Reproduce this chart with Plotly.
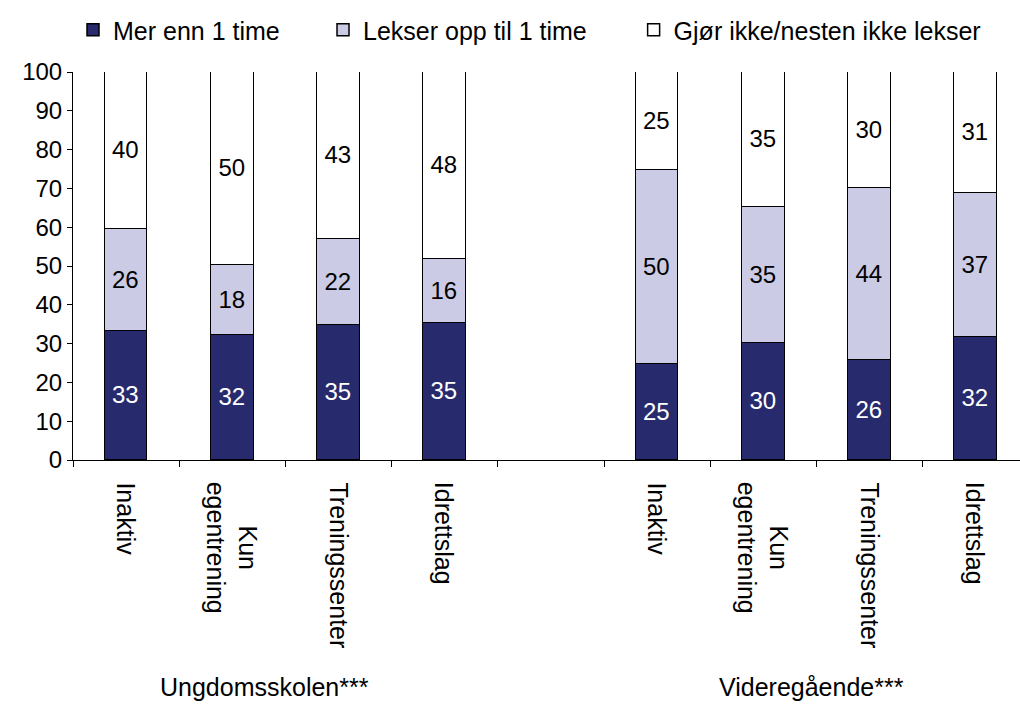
import plotly.graph_objects as go

# Activity groups (x positions leave an empty slot between the two school levels)
categories = ["Inaktiv", "Kun<br>egentrening", "Treningssenter", "Idrettslag",
              "Inaktiv", "Kun<br>egentrening", "Treningssenter", "Idrettslag"]
x_pos = [0, 1, 2, 3, 5, 6, 7, 8]
groups = ["Ungdomsskolen***", "Videregående***"]
group_x = [1.3, 6.45]

# Share of pupils (%) by homework time
mer_enn_1_time = [33.3, 32.3, 34.8, 35.3, 24.8, 30.2, 25.9, 31.6]
opp_til_1_time = [26.3, 18.0, 22.2, 16.4, 50.0, 35.1, 44.3, 37.3]
ikke_lekser = [40.4, 49.7, 43.0, 48.3, 25.2, 34.7, 29.8, 31.1]

series = [
    ("Mer enn 1 time", mer_enn_1_time, "#272A6D", "white", "legend"),
    ("Lekser opp til 1 time", opp_til_1_time, "#CBCBE5", "black", "legend2"),
    ("Gjør ikke/nesten ikke lekser", ikke_lekser, "#FFFFFF", "black", "legend3"),
]

FONT = "Liberation Sans, Arial, sans-serif"

fig = go.Figure()
for name, vals, color, tcolor, leg in series:
    fig.add_trace(go.Bar(
        x=x_pos, y=vals, name=name, width=0.4,
        marker=dict(color=color, line=dict(color="black", width=1.5)),
        text=vals, texttemplate="%{y:.0f}", textposition="inside",
        insidetextanchor="middle", textangle=0, constraintext="none",
        textfont=dict(color=tcolor, size=24, family=FONT),
        legend=leg,
    ))

annotations = []
for xp, lab in zip(x_pos, categories):
    annotations.append(dict(
        x=xp, y=0, xref="x", yref="paper", yshift=-20,
        text=lab, textangle=90, showarrow=False,
        xanchor="center", yanchor="top",
        font=dict(size=25, family=FONT, color="black"),
    ))
for gx, g in zip(group_x, groups):
    annotations.append(dict(
        x=gx, y=-0.585, xref="x", yref="paper", text=g, showarrow=False,
        xanchor="center", yanchor="middle",
        font=dict(size=25, family=FONT, color="black"),
    ))

leg_common = dict(orientation="h", yanchor="middle", y=1.108, xanchor="left",
                  font=dict(size=25, family=FONT, color="black"),
                  bgcolor="rgba(0,0,0,0)", borderwidth=0)

fig.update_layout(
    width=1020, height=706,
    margin=dict(l=73, r=0, t=72, b=246),
    paper_bgcolor="white", plot_bgcolor="white",
    barmode="stack", bargap=0,
    showlegend=True,
    legend=dict(x=0.0, **leg_common),
    legend2=dict(x=0.264, **leg_common),
    legend3=dict(x=0.592, **leg_common),
    font=dict(family=FONT, size=24, color="black"),
    xaxis=dict(range=[-0.5, 8.417], showline=True, linecolor="black", linewidth=1,
               ticks="outside", ticklen=6, tickcolor="black",
               tickvals=[-0.5, 0.5, 1.5, 2.5, 3.5, 4.5, 5.5, 6.5, 7.5],
               showticklabels=False, showgrid=False, zeroline=False),
    yaxis=dict(range=[0, 100], dtick=10, showline=True, linecolor="black", linewidth=1,
               ticks="outside", ticklen=5, tickcolor="black", showgrid=False,
               zeroline=False, tickfont=dict(size=24, family=FONT, color="black")),
    annotations=annotations,
)

fig.write_html("out.html")
